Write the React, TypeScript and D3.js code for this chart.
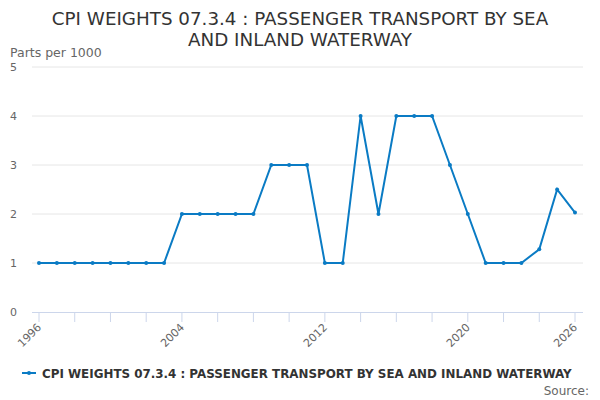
import * as d3 from "d3";

const years = d3.range(1996, 2027);
const weights = [
  1, 1, 1, 1, 1, 1, 1, 1, 2, 2, 2, 2, 2, 3, 3, 3, 1, 1, 4, 2, 4, 4, 4, 3, 2, 1,
  1, 1, 1.28, 2.5, 2.03,
];
const yTicks = [0, 1, 2, 3, 4, 5];
const labelYears = [1996, 2004, 2012, 2020, 2026];
const seriesName = "CPI WEIGHTS 07.3.4 : PASSENGER TRANSPORT BY SEA AND INLAND WATERWAY";

const W = 600;
const H = 400;
const plot = { left: 32, right: 583, top: 67, bottom: 312 };
const blue = "#0a7bc4";
const font = "DejaVu Sans, sans-serif";

export default function App() {
  const x = d3.scaleLinear().domain([1996, 2026]).range([39, 575]);
  const y = d3.scaleLinear().domain([0, 5]).range([plot.bottom, plot.top]);

  const line = d3
    .line<number>()
    .x((_, i) => x(years[i]))
    .y((d) => y(d));

  const tickYears = years.filter((yr) => yr % 2 === 0);

  return (
    <svg
      width={W}
      height={H}
      style={{ position: "absolute", left: 0, top: 0 }}
      fontFamily={font}
    >
      <rect width={W} height={H} fill="white" />

      {/* title */}
      <text x={W / 2} y={25} textAnchor="middle" fontSize={18.3} fill="#333">
        CPI WEIGHTS 07.3.4 : PASSENGER TRANSPORT BY SEA
      </text>
      <text x={W / 2} y={46} textAnchor="middle" fontSize={18.3} fill="#333">
        AND INLAND WATERWAY
      </text>

      <text x={10} y={57} fontSize={12.5} fill="#666">
        Parts per 1000
      </text>

      {/* grid + y labels */}
      {yTicks.map((t) => (
        <g key={t}>
          {t > 0 && (
            <line
              x1={plot.left}
              x2={plot.right}
              y1={y(t)}
              y2={y(t)}
              stroke="#e6e6e6"
            />
          )}
          <text x={10} y={y(t) + 4} fontSize={11} fill="#666">
            {t}
          </text>
        </g>
      ))}

      {/* x axis */}
      <line
        x1={plot.left}
        x2={plot.right}
        y1={plot.bottom + 0.5}
        y2={plot.bottom + 0.5}
        stroke="#ccd6eb"
      />
      {tickYears.map((yr) => (
        <line
          key={yr}
          x1={x(yr)}
          x2={x(yr)}
          y1={plot.bottom}
          y2={plot.bottom + 10}
          stroke="#ccd6eb"
        />
      ))}
      {labelYears.map((yr) => (
        <text
          key={yr}
          transform={`translate(${x(yr) + 3},${plot.bottom + 16}) rotate(-45)`}
          textAnchor="end"
          fontSize={11}
          fill="#666"
        >
          {yr}
        </text>
      ))}

      {/* series */}
      <path d={line(weights) ?? ""} fill="none" stroke={blue} strokeWidth={2} />
      {weights.map((v, i) => (
        <circle key={i} cx={x(years[i])} cy={y(v)} r={2} fill={blue} />
      ))}

      {/* legend */}
      <line x1={22} x2={36} y1={373} y2={373} stroke={blue} strokeWidth={2} />
      <circle cx={29} cy={373} r={2} fill={blue} />
      <text x={42} y={377.5} fontSize={11.9} fontWeight="bold" fill="#333">
        {seriesName}
      </text>

      <text x={589} y={395} textAnchor="end" fontSize={12} fill="#666">
        Source:
      </text>
    </svg>
  );
}
